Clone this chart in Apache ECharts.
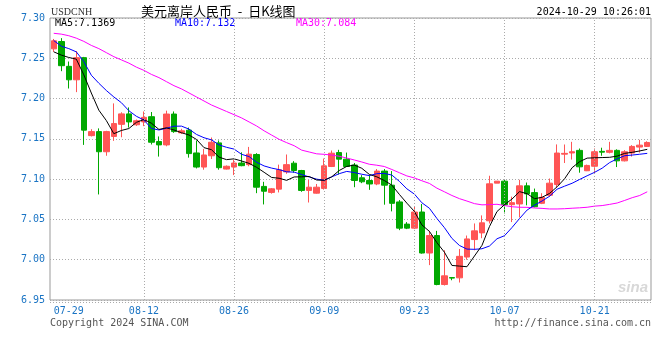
<!DOCTYPE html>
<html>
<head>
<meta charset="utf-8">
<script src="https://cdn.jsdelivr.net/npm/echarts@6/dist/echarts.min.js"></script>
<style>html,body{margin:0;padding:0;background:#fff}#c{width:660px;height:360px}</style>
</head>
<body>
<div id="c"></div>
<script>
const dates = [
 '07-29','07-30','07-31','08-01','08-02','08-03',
 '08-05','08-06','08-07','08-08','08-09','08-10',
 '08-12','08-13','08-14','08-15','08-16','08-17',
 '08-19','08-20','08-21','08-22','08-23','08-24',
 '08-26','08-27','08-28','08-29','08-30','08-31',
 '09-02','09-03','09-04','09-05','09-06','09-07',
 '09-09','09-10','09-11','09-12','09-13','09-14',
 '09-16','09-17','09-18','09-19','09-20','09-21',
 '09-23','09-24','09-25','09-26','09-27','09-28',
 '09-30','10-01','10-02','10-03','10-04','10-05',
 '10-07','10-08','10-09','10-10','10-11','10-12',
 '10-14','10-15','10-16','10-17','10-18','10-19',
 '10-21','10-22','10-23','10-24','10-25','10-26',
 '10-28','10-29'
];
const opens = [
 7.2617,7.2708,7.2400,7.2233,7.2508,7.1540,
 7.1590,7.1340,7.1530,7.1680,7.1810,7.1675,
 7.1710,7.1775,7.1467,7.1425,7.1808,7.1575,
 7.1608,7.1325,7.1150,7.1290,7.1450,7.1125,
 7.1150,7.1200,7.1180,7.1306,7.0910,7.0835,
 7.0876,7.1090,7.1198,7.1107,7.0860,7.0826,
 7.0884,7.1157,7.1330,7.1248,7.1175,7.1017,
 7.0983,7.0940,7.1100,7.0925,7.0717,7.0442,
 7.0392,7.0592,7.0083,7.0300,6.9692,6.9778,
 6.9775,7.0033,7.0250,7.0333,7.0483,7.0950,
 7.0975,7.0683,7.0692,7.0917,7.0833,7.0700,
 7.0800,7.0933,7.1310,7.1325,7.1357,7.1104,
 7.1160,7.1345,7.1333,7.1357,7.1227,7.1324,
 7.1398,7.1406
];
const closes = [
 7.2717,7.2408,7.2233,7.2508,7.1608,7.1590,
 7.1340,7.1590,7.1690,7.1810,7.1710,7.1725,
 7.1767,7.1458,7.1425,7.1808,7.1590,7.1600,
 7.1317,7.1150,7.1300,7.1458,7.1142,7.1160,
 7.1200,7.1167,7.1310,7.0900,7.0850,7.0880,
 7.1116,7.1180,7.1107,7.0860,7.0900,7.0900,
 7.1165,7.1322,7.1248,7.1157,7.0983,7.0967,
 7.0940,7.1100,7.0925,7.0700,7.0392,7.0392,
 7.0592,7.0083,7.0300,6.9692,6.9800,6.9772,
 7.0042,7.0258,7.0358,7.0458,7.0942,7.0975,
 7.0683,7.0708,7.0917,7.0817,7.0658,7.0775,
 7.0950,7.1324,7.1320,7.1340,7.1153,7.1170,
 7.1340,7.1335,7.1357,7.1227,7.1340,7.1406,
 7.1422,7.1455
];
const lows = [
 7.2580,7.2340,7.2125,7.2080,7.1425,7.1530,
 7.0810,7.1290,7.1475,7.1520,7.1640,7.1660,
 7.1658,7.1430,7.1280,7.1408,7.1575,7.1560,
 7.1267,7.1133,7.1117,7.1250,7.1117,7.1120,
 7.1050,7.1160,7.1160,7.0826,7.0686,7.0820,
 7.0835,7.1066,7.1080,7.0843,7.0710,7.0820,
 7.0870,7.1150,7.1058,7.1150,7.0900,7.0950,
 7.0867,7.0925,7.0683,7.0600,7.0367,7.0380,
 7.0380,7.0075,6.9933,6.9683,6.9680,6.9745,
 6.9717,7.0000,7.0117,7.0267,7.0450,7.0950,
 7.0575,7.0467,7.0525,7.0675,7.0650,7.0690,
 7.0780,7.0900,7.1200,7.1243,7.1080,7.1100,
 7.1070,7.1290,7.1320,7.1150,7.1220,7.1280,
 7.1330,7.1400
];
const highs = [
 7.2740,7.2750,7.2460,7.2590,7.2517,7.1620,
 7.1630,7.1600,7.1940,7.1830,7.1890,7.1740,
 7.1840,7.1833,7.1530,7.1850,7.1840,7.1625,
 7.1640,7.1480,7.1375,7.1517,7.1480,7.1170,
 7.1240,7.1333,7.1400,7.1322,7.0967,7.0890,
 7.1180,7.1306,7.1223,7.1115,7.0990,7.0940,
 7.1256,7.1355,7.1364,7.1330,7.1200,7.1050,
 7.1050,7.1125,7.1125,7.1100,7.0740,7.0467,
 7.0658,7.0692,7.0358,7.0358,7.0117,6.9780,
 7.0133,7.0300,7.0450,7.0550,7.1042,7.0975,
 7.1000,7.0783,7.0992,7.0958,7.0883,7.0825,
 7.1008,7.1431,7.1430,7.1463,7.1380,7.1180,
 7.1380,7.1390,7.1463,7.1370,7.1360,7.1422,
 7.1488,7.1470
];
// moving-average values before enough closes exist
const ma5Head = [7.258,7.254,7.251,7.249];
const ma10Head = [7.272,7.265,7.262,7.258,7.246,7.229,7.219,7.210,7.202];
const ma30Head = [7.281,7.280,7.278,7.275,7.271,7.266,7.262,7.257,7.252,7.248,
 7.244,7.239,7.235,7.230,7.226,7.221,7.216,7.212,7.207,7.202,
 7.197,7.192,7.188,7.184,7.180,7.176,7.171,7.166,7.160];
const yTicks = [6.95,7.00,7.05,7.10,7.15,7.20,7.25,7.30];
const xLabelDates = ['07-29','08-12','08-26','09-09','09-23','10-07','10-21'];
const titleMain = '美元离岸人民币  -  日K线图';
const titleCode = 'USDCNH';
const stamp = '2024-10-29 10:26:01';
const maTexts = ['MA5:7.1369','MA10:7.132','MA30:7.084'];
const footL = 'Copyright 2024 SINA.COM';
const footR = 'http://finance.sina.com.cn';

function movingAvg(n, head){
  const out = head.slice();
  for(let i=head.length;i<closes.length;i++){
    let s=0; for(let j=i-n+1;j<=i;j++) s+=closes[j];
    out.push(+(s/n).toFixed(4));
  }
  return out;
}
const kData = dates.map((d,i)=>[opens[i],closes[i],lows[i],highs[i]]);

const UP='#ff5555', DOWN='#00a800', BLUE='#1a74c4', MONO='DejaVu Sans Mono';
const chart = echarts.init(document.getElementById('c'), null, {renderer:'canvas'});
chart.setOption({
  animation:false,
  backgroundColor:'#fff',
  grid:{left:50,right:9,top:18,bottom:60,show:true,borderColor:'#999',borderWidth:1,containLabel:false},
  xAxis:{type:'category',data:dates,boundaryGap:true,
    axisLine:{show:false},axisTick:{show:false},splitLine:{show:false},
    axisLabel:{color:BLUE,fontFamily:MONO,fontSize:10,margin:6,alignMinLabel:'left',
      interval:(i,v)=>xLabelDates.indexOf(v)>=0,
      formatter:v=>v}},
  yAxis:{type:'value',min:yTicks[0],max:yTicks[yTicks.length-1],interval:0.05,
    axisLine:{show:false},axisTick:{show:false},
    axisLabel:{color:BLUE,fontFamily:MONO,fontSize:10,margin:5,formatter:v=>v.toFixed(2)},
    splitLine:{show:true,lineStyle:{color:'#aaa',type:[1,2],width:1}}},
  series:[
    {type:'candlestick',data:kData,barWidth:6,
      itemStyle:{color:UP,color0:DOWN,borderColor:UP,borderColor0:DOWN,borderWidth:1},
      markLine:{silent:true,symbol:'none',label:{show:false},
        lineStyle:{color:'#aaa',type:[1,2],width:1},
        data:xLabelDates.slice(1).map(d=>({xAxis:d}))}},
    {type:'line',data:movingAvg(30,ma30Head),showSymbol:false,symbol:'none',lineStyle:{color:'#ff00ff',width:1},z:3},
    {type:'line',data:movingAvg(10,ma10Head),showSymbol:false,symbol:'none',lineStyle:{color:'#0000ff',width:1},z:3},
    {type:'line',data:movingAvg(5,ma5Head),showSymbol:false,symbol:'none',lineStyle:{color:'#000',width:1},z:3}
  ],
  graphic:[
    {type:'line',shape:{x1:50,y1:302.5,x2:653,y2:302.5},style:{stroke:'#aaa',lineWidth:1,lineDash:[1,2]},silent:true},
    {type:'text',left:51,top:7,style:{text:titleCode,font:'10px "Liberation Serif"',fill:'#333'}},
    {type:'text',left:141,top:5,style:{text:titleMain,font:'13px "Noto Sans CJK SC"',fill:'#000'}},
    {type:'text',right:9,top:7,style:{text:stamp,font:'10px "DejaVu Sans Mono"',fill:'#000'}},
    {type:'text',left:55,top:18,style:{text:maTexts[0],font:'10px "DejaVu Sans Mono"',fill:'#000'}},
    {type:'text',left:175,top:18,style:{text:maTexts[1],font:'10px "DejaVu Sans Mono"',fill:'#0000ff'}},
    {type:'text',left:296,top:18,style:{text:maTexts[2],font:'10px "DejaVu Sans Mono"',fill:'#ff00ff'}},
    {type:'text',left:50,top:318,style:{text:footL,font:'10px "DejaVu Sans Mono"',fill:'#555'}},
    {type:'text',right:9,top:318,style:{text:footR,font:'10px "DejaVu Sans Mono"',fill:'#555'}},
    {type:'text',right:12,top:280,style:{text:'sina',font:'italic bold 15px "Liberation Sans"',fill:'#d8d8d8'}}
  ]
});
</script>
</body>
</html>
